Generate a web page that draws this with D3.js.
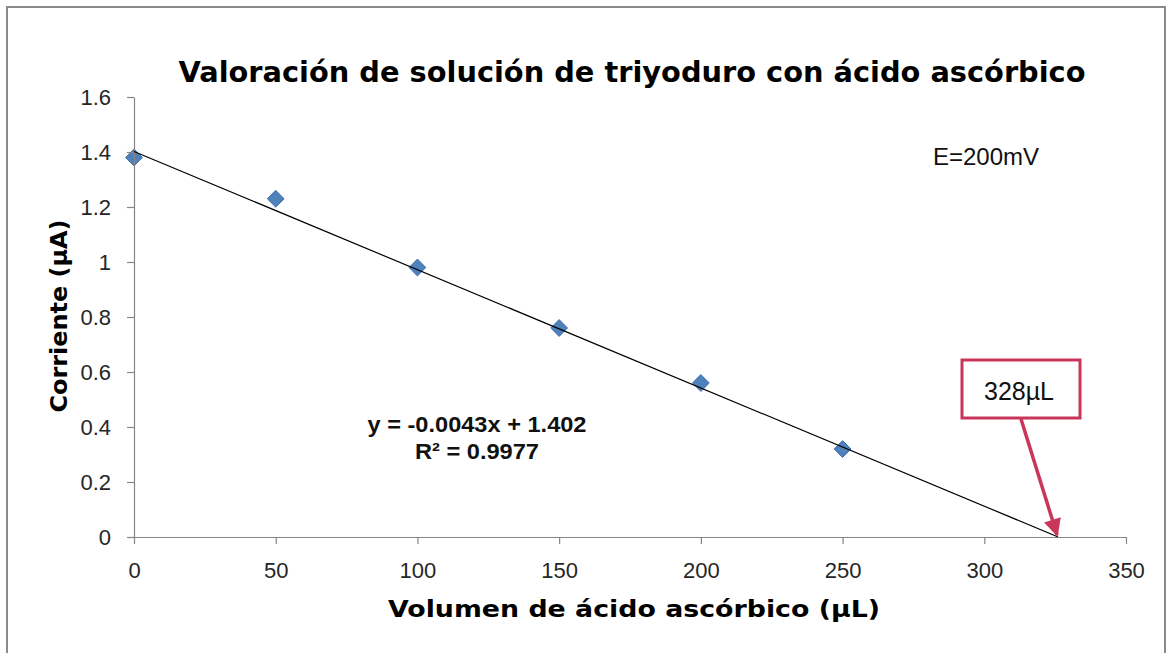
<!DOCTYPE html>
<html>
<head>
<meta charset="utf-8">
<script src="https://cdn.jsdelivr.net/npm/d3@7"></script>
<style>
  body { margin: 0; background: #fff; }
  svg { display: block; }
</style>
</head>
<body>
<svg id="chart"></svg>
<script>
// data
var volumes = [0, 50, 100, 150, 200, 250];
var currents = [1.38, 1.23, 0.98, 0.76, 0.56, 0.32];
var xTicks = [0, 50, 100, 150, 200, 250, 300, 350];
var yTicks = [0, 0.2, 0.4, 0.6, 0.8, 1, 1.2, 1.4, 1.6];
var trendSlope = -0.0043;
var trendIntercept = 1.402;
var equationLines = ["y = -0.0043x + 1.402", "R² = 0.9977"];
var endPointLabel = "328µL";

var W = 1173, H = 653;
var margin = { top: 97, right: 47, bottom: 116, left: 134 },
    width = W - margin.left - margin.right,
    height = H - margin.top - margin.bottom;

var svg = d3.select("#chart").attr("width", W).attr("height", H);

// outer frame
svg.append("rect")
    .attr("x", 7).attr("y", 7)
    .attr("width", 1158).attr("height", 660)
    .style("fill", "#fff")
    .style("stroke", "#8a8a8a")
    .style("stroke-width", 2);

var g = svg.append("g")
    .attr("transform", "translate(" + margin.left + "," + margin.top + ")");

var x = d3.scaleLinear().domain([0, 350]).range([0, width]);
var y = d3.scaleLinear().domain([0, 1.6]).range([height, 0]);

// diamonds go under the axes/trend line
var pts = volumes.map(function(v, i) { return { x: v, y: currents[i] }; });
g.selectAll(".pt")
    .data(pts)
    .enter().append("path")
    .attr("class", "pt")
    .attr("d", d3.symbol().type(d3.symbolDiamond2).size(180))
    .attr("transform", function(d) { return "translate(" + x(d.x) + "," + y(d.y) + ")"; })
    .style("fill", "#4f81bd")
    .style("stroke", "#3f6fa8")
    .style("stroke-width", 1);

// Y axis
var yAxis = g.append("g")
    .call(d3.axisLeft(y).tickValues(yTicks).tickSizeInner(7).tickSizeOuter(0).tickPadding(16)
        .tickFormat(function(d) { return d3.format("")(+d.toFixed(1)); }));
// X axis
var xAxis = g.append("g")
    .attr("transform", "translate(0," + height + ")")
    .call(d3.axisBottom(x).tickValues(xTicks).tickSizeInner(7).tickSizeOuter(0).tickPadding(18));

[xAxis, yAxis].forEach(function(a) {
    a.selectAll("path, line").style("stroke", "#868686").style("stroke-width", 1.2);
    a.selectAll("text")
        .style("font-family", "'Liberation Sans', Arial, sans-serif")
        .style("font-size", "22px")
        .style("fill", "#262626");
});

// trend line, drawn from the displayed equation out to where it crosses zero
var root = -trendIntercept / trendSlope;
g.append("line")
    .attr("x1", x(0)).attr("y1", y(trendIntercept))
    .attr("x2", x(root)).attr("y2", y(0))
    .style("stroke", "#000")
    .style("stroke-width", 1.2);

// equation
g.selectAll(".eq")
    .data(equationLines)
    .enter().append("text")
    .attr("x", 343)
    .attr("y", function(d, i) { return 335 + i * 27; })
    .attr("text-anchor", "middle")
    .style("font-family", "'Liberation Sans', Arial, sans-serif")
    .style("font-weight", "bold")
    .style("font-size", "22px")
    .attr("textLength", function(d, i) { return i == 0 ? 219 : 124; })
    .attr("lengthAdjust", "spacingAndGlyphs")
    .style("fill", "#111")
    .text(function(d) { return d; });

// E label
g.append("text")
    .attr("x", 799).attr("y", 68)
    .style("font-family", "'Liberation Sans', Arial, sans-serif")
    .style("font-size", "24px")
    .style("fill", "#111")
    .text("E=200mV");

// callout box with arrow
var red = "#c8375a";
svg.append("defs").append("marker")
    .attr("id", "arrow")
    .attr("viewBox", "0 0 10 10")
    .attr("refX", 9).attr("refY", 5)
    .attr("markerWidth", 5.5).attr("markerHeight", 5)
    .attr("orient", "auto")
    .append("path")
    .attr("d", "M0,0L10,5L0,10Z")
    .style("fill", red);

g.append("line")
    .attr("x1", 887).attr("y1", 322)
    .attr("x2", x(root) - 1).attr("y2", y(0) - 2)
    .style("stroke", red)
    .style("stroke-width", 3.5)
    .attr("marker-end", "url(#arrow)");

g.append("rect")
    .attr("x", 828).attr("y", 263)
    .attr("width", 118).attr("height", 58)
    .style("fill", "#fff")
    .style("stroke", red)
    .style("stroke-width", 3);

g.append("text")
    .attr("x", 885).attr("y", 303)
    .attr("text-anchor", "middle")
    .style("font-family", "'Liberation Sans', Arial, sans-serif")
    .style("font-size", "25px")
    .style("fill", "#111")
    .text(endPointLabel);

// title
svg.append("text")
    .attr("x", 632).attr("y", 82)
    .attr("text-anchor", "middle")
    .style("font-family", "'DejaVu Sans', Verdana, sans-serif")
    .style("font-weight", "bold")
    .style("font-size", "28px")
    .attr("textLength", 907)
    .attr("lengthAdjust", "spacingAndGlyphs")
    .style("fill", "#000")
    .text("Valoración de solución de triyoduro con ácido ascórbico");

// axis titles
svg.append("text")
    .attr("x", 634).attr("y", 617)
    .attr("text-anchor", "middle")
    .style("font-family", "'DejaVu Sans', Verdana, sans-serif")
    .style("font-weight", "bold")
    .style("font-size", "23px")
    .attr("textLength", 492)
    .attr("lengthAdjust", "spacingAndGlyphs")
    .style("fill", "#000")
    .text("Volumen de ácido ascórbico (µL)");

svg.append("text")
    .attr("transform", "translate(67,316) rotate(-90)")
    .attr("text-anchor", "middle")
    .style("font-family", "'DejaVu Sans', Verdana, sans-serif")
    .style("font-weight", "bold")
    .style("font-size", "23px")
    .attr("textLength", 193)
    .attr("lengthAdjust", "spacingAndGlyphs")
    .style("fill", "#000")
    .text("Corriente (µA)");
</script>
</body>
</html>
